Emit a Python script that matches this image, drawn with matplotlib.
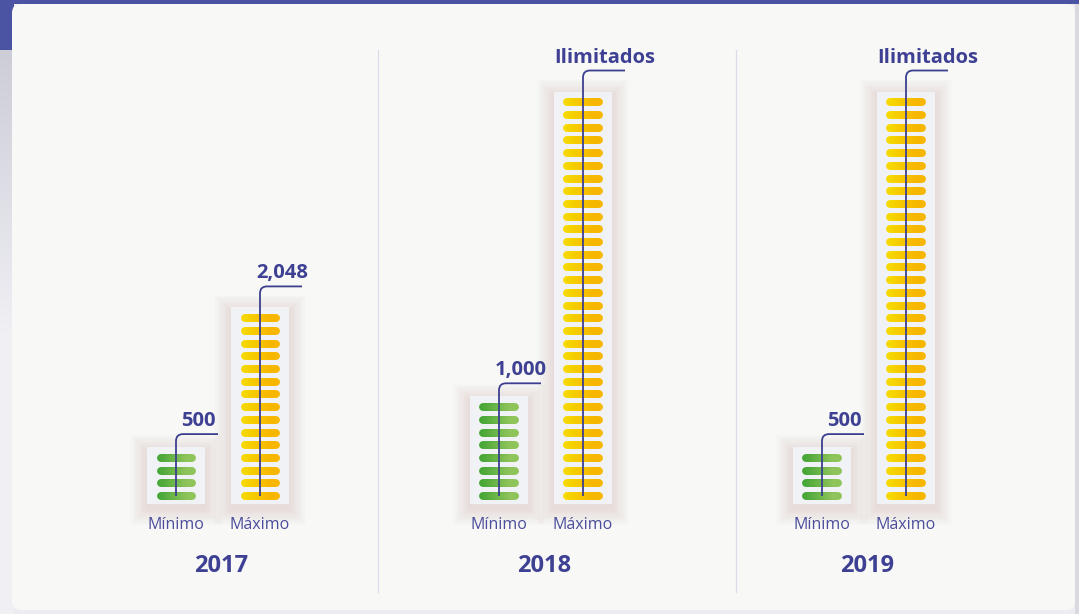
import numpy as np
import matplotlib.pyplot as plt
from matplotlib.patches import Rectangle, FancyBboxPatch, PathPatch
from matplotlib.path import Path
from matplotlib.collections import LineCollection
from matplotlib.colors import LinearSegmentedColormap, to_rgb

# Data
years = ['2017', '2018', '2019']
categories = ['Mínimo', 'Máximo']
min_segments = [4, 8, 4]
max_segments = [15, 32, 32]
min_labels = ['500', '1,000', '500']
max_labels = ['2,048', 'Ilimitados', 'Ilimitados']

plt.rcParams['font.family'] = ['Open Sans', 'DejaVu Sans']

W, H = 1079, 614
fig = plt.figure(figsize=(W / 100, H / 100), dpi=100)
fig.patch.set_facecolor('#ededf1')

# Page decoration (pixel coordinates)
bg = fig.add_axes([0, 0, 1, 1])
bg.set_xlim(0, W)
bg.set_ylim(H, 0)
bg.axis('off')
side = LinearSegmentedColormap.from_list('side', ['#cdcdd8', '#efeff4', '#f1f1f5'])
bg.imshow(np.linspace(0, 1, 256).reshape(-1, 1), cmap=side, aspect='auto',
          extent=(0, 14, H, 50), zorder=0)
bg.add_patch(Rectangle((0, 0), W, 4, color='#4b53a3', lw=0, zorder=1))
bg.add_patch(Rectangle((0, 0), 14, 50, color='#4b53a3', lw=0, zorder=1))
bg.add_patch(Rectangle((1075, 4), 4, H, color='#d9d9df', lw=0, zorder=1))
bg.add_patch(FancyBboxPatch((12, 4), 1063, 606, boxstyle='round,pad=0,rounding_size=9',
                            fc='#f8f8f6', ec='none', zorder=2))

# Main axes: x in group units, y in segment units
PX = 1 / 323.0   # group units per pixel
PY = 1 / 12.7    # segment units per pixel
ax = fig.add_axes([0, 0, 1, 1])
ax.set_facecolor('none')
ax.set_xlim(-218 * PX, (W - 218) * PX)
ax.set_ylim((496 - H) * PY, 496 * PY)
ax.axis('off')

dark = '#3e4093'
green = ('#46a636', '#8fc45a')
yellow = ('#f6d900', '#f7b600')


def draw_stack(xc, n, colors, label, elbow_px):
    bw = 58 * PX
    y0 = -0.65
    y1 = n - 1 + 0.85
    # soft shadow
    for k in range(14):
        g = (k + 1) * 1.2
        ax.add_patch(FancyBboxPatch((xc - bw / 2 - g * PX, y0 - g * PY - 4 * PY),
                                    bw + 2 * g * PX, (y1 - y0) + 2 * g * PY,
                                    boxstyle='square,pad=0',
                                    fc='#b49a9a', ec='none', alpha=0.016, zorder=3))
    ax.add_patch(Rectangle((xc - bw / 2, y0), bw, y1 - y0, fc='#f1f2f5', ec='none', zorder=4))
    # pills with horizontal gradient
    c0, c1 = np.array(to_rgb(colors[0])), np.array(to_rgb(colors[1]))
    xs = np.linspace(xc - 15.5 * PX, xc + 15.5 * PX, 13)
    cols = [c0 + (c1 - c0) * t for t in np.linspace(0, 1, 12)]
    for i in range(n):
        segs = [[(xs[j], i), (xs[j + 1], i)] for j in range(12)]
        ax.add_collection(LineCollection(segs, colors=cols, linewidths=5.7,
                                         capstyle='round', zorder=5))
    # connector line with rounded elbow
    ye = y1 + elbow_px * PY
    rx, ry = 7 * PX, 7 * PY
    path = Path([(xc, 0), (xc, ye - ry), (xc, ye), (xc + rx, ye), (xc + 42 * PX, ye)],
                [Path.MOVETO, Path.LINETO, Path.CURVE3, Path.CURVE3, Path.LINETO])
    ax.add_patch(PathPatch(path, fc='none', ec='#3c3f8f', lw=1.3, zorder=6))
    ax.text(xc + 22 * PX, ye + 8 * PY, label, ha='center', va='baseline',
            fontsize=14.5, fontweight='bold', color=dark, zorder=7)


offset = 42 * PX
for g, year in enumerate(years):
    draw_stack(g - offset, min_segments[g], green, min_labels[g], 13)
    draw_stack(g + offset, max_segments[g], yellow, max_labels[g], 21)
    ax.text(g - offset, (496 - 525) * PY, categories[0], ha='center', va='center',
            fontsize=11.5, color='#4b4d9c')
    ax.text(g + offset, (496 - 525) * PY, categories[1], ha='center', va='center',
            fontsize=11.5, color='#4b4d9c')
    ax.text(g + 0.01, (496 - 566) * PY, year, ha='center', va='center',
            fontsize=17, fontweight='bold', color=dark)

# dividers between years
for xd in [(378 - 218) * PX, (736 - 218) * PX]:
    ax.plot([xd, xd], [(496 - 50) * PY, (496 - 592) * PY], color='#dcdcec', lw=0.9, zorder=2)

fig.savefig('out.png', dpi=100, facecolor=fig.get_facecolor())
